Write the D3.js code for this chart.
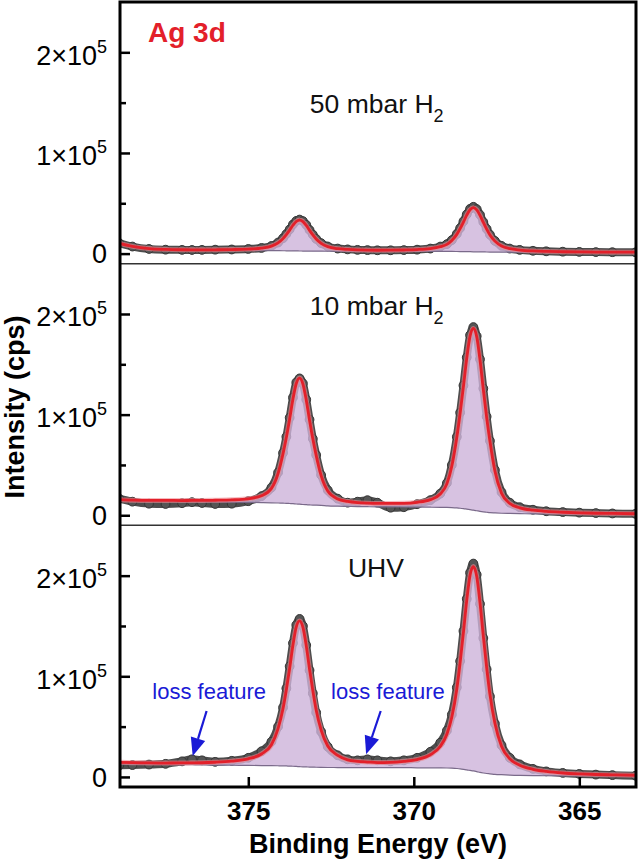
<!DOCTYPE html>
<html>
<head>
<meta charset="utf-8">
<script src="https://cdn.jsdelivr.net/npm/d3@7"></script>
<style>
	body { margin: 0; background: #fff; }
	svg text { font-family: "Liberation Sans", Arial, Helvetica, sans-serif; }
</style>
</head>
<body>
<div id="chart"></div>
<script>

// binding energies (eV), shared by every panel
const energy = [378.9, 378.5, 378.0, 377.5, 377.0, 376.7, 376.4, 376.0, 375.5, 375.0,
	374.6, 374.3, 374.1, 373.95, 373.85, 373.75, 373.65, 373.55, 373.45, 373.35,
	373.25, 373.15, 373.05, 372.95, 372.8, 372.6, 372.3, 372.0, 371.7, 371.4,
	371.1, 370.7, 370.3, 369.9, 369.5, 369.2, 369.0, 368.85, 368.7, 368.6,
	368.5, 368.4, 368.3, 368.2, 368.1, 368.0, 367.9, 367.8, 367.7, 367.55,
	367.35, 367.1, 366.8, 366.4, 366.0, 365.5, 365.0, 364.5, 364.0, 363.3];

// intensities in 10^3 cps
const mbar50Data = [10.5, 7.0, 4.6, 3.9, 3.7, 3.6, 3.7, 3.9, 4.1, 4.6,
	5.6, 7.6, 11.0, 15.3, 19.5, 24.0, 29.0, 32.5, 33.8, 32.3,
	28.6, 23.5, 18.8, 14.6, 10.4, 7.1, 5.0, 4.2, 3.7, 3.5,
	3.3, 3.3, 3.5, 3.9, 5.0, 7.0, 9.4, 13.4, 19.6, 25.3,
	32.0, 39.0, 44.5, 46.5, 44.2, 38.6, 31.4, 24.6, 18.8, 12.6,
	7.7, 5.0, 3.7, 2.8, 2.3, 1.9, 1.7, 1.5, 1.4, 1.3];
const mbar50Fit = [10.2, 7.2, 5.0, 4.2, 3.85, 3.75, 3.75, 3.8, 4.0, 4.45,
	5.45, 7.4, 10.65, 14.9, 18.85, 23.3, 28.15, 31.9, 33.3, 31.85,
	28.0, 23.1, 18.55, 14.5, 10.25, 6.9, 4.85, 4.1, 3.65, 3.45,
	3.35, 3.4, 3.6, 4.0, 5.0, 6.85, 9.15, 13.05, 19.1, 24.75,
	31.3, 38.25, 43.6, 45.65, 43.45, 38.0, 30.95, 24.3, 18.55, 12.4,
	7.55, 4.9, 3.55, 2.65, 2.2, 1.85, 1.7, 1.5, 1.45, 1.4];
const mbar50Bg = [10.0, 7.0, 4.8, 3.9, 3.5, 3.35, 3.3, 3.2, 3.15, 3.1,
	3.0, 2.95, 2.9, 2.85, 2.8, 2.75, 2.7, 2.65, 2.6, 2.55,
	2.5, 2.48, 2.45, 2.42, 2.4, 2.35, 2.3, 2.3, 2.25, 2.25,
	2.25, 2.2, 2.2, 2.2, 2.2, 2.2, 2.15, 2.15, 2.1, 2.05,
	2.0, 1.95, 1.9, 1.8, 1.75, 1.7, 1.65, 1.6, 1.55, 1.5,
	1.45, 1.4, 1.35, 1.3, 1.3, 1.25, 1.25, 1.2, 1.2, 1.2];

const mbar10Data = [16.5, 13.5, 11.5, 11.2, 12.0, 13.0, 12.2, 11.2, 11.5, 14.0,
	19.0, 27.5, 42.5, 62.0, 78.0, 97.0, 117.0, 132.0, 136.0, 131.0,
	115.0, 95.0, 76.0, 60.0, 40.0, 25.0, 16.5, 12.5, 13.5, 15.0,
	12.5, 7.5, 8.0, 11.0, 15.0, 21.5, 32.0, 50.0, 78.0, 102.0,
	129.0, 157.0, 179.0, 187.0, 178.0, 155.0, 126.0, 98.0, 74.0, 45.0,
	23.0, 12.5, 8.0, 5.5, 4.0, 3.2, 2.6, 2.2, 1.8, 1.4];
const mbar10Fit = [15.5, 15.0, 14.75, 14.75, 14.65, 14.7, 14.7, 14.9, 15.3, 16.4,
	19.4, 26.7, 41.5, 61.3, 77.3, 95.8, 115.5, 130.9, 136.3, 130.4,
	114.6, 94.5, 75.7, 59.5, 39.3, 24.0, 16.2, 13.7, 12.5, 12.0,
	11.8, 11.8, 11.9, 12.9, 15.5, 21.1, 31.2, 49.0, 77.5, 101.4,
	128.0, 156.0, 178.0, 185.6, 177.5, 154.3, 124.9, 97.3, 73.5, 43.9,
	21.9, 11.7, 7.4, 5.0, 3.8, 3.0, 2.4, 2.0, 1.8, 1.5];
const mbar10Bg = [14.5, 14.3, 14.0, 13.8, 13.6, 13.5, 13.4, 13.2, 13.0, 12.8,
	12.6, 12.4, 12.2, 12.0, 11.9, 11.7, 11.5, 11.2, 11.0, 10.7,
	10.5, 10.3, 10.1, 10.0, 9.8, 9.3, 9.0, 8.8, 8.6, 8.5,
	8.4, 8.3, 8.2, 8.1, 8.0, 7.9, 7.8, 7.6, 7.3, 7.0,
	6.6, 6.1, 5.6, 5.1, 4.5, 3.9, 3.4, 3.0, 2.6, 2.3,
	2.0, 1.8, 1.6, 1.4, 1.3, 1.2, 1.1, 1.0, 1.0, 0.9];

const uhvData = [11.5, 11.8, 12.3, 13.0, 15.5, 17.5, 16.5, 15.0, 16.0, 19.0,
	25.5, 35.0, 50.0, 69.0, 88.0, 110.0, 133.0, 151.0, 157.0, 150.0,
	131.0, 106.0, 83.0, 64.0, 45.0, 30.0, 21.5, 17.5, 16.5, 17.5,
	16.5, 15.5, 16.5, 19.0, 25.0, 34.0, 46.0, 62.0, 89.0, 115.0,
	145.0, 177.0, 203.0, 212.0, 201.0, 172.0, 138.0, 107.0, 80.0, 53.0,
	31.5, 19.0, 12.5, 8.0, 5.5, 4.0, 3.0, 2.3, 1.8, 1.2];
const uhvFit = [14.5, 14.2, 13.9, 13.8, 13.9, 14.0, 14.1, 14.6, 15.7, 18.0,
	22.8, 32.0, 48.0, 68.0, 86.7, 108.0, 131.0, 149.0, 155.0, 148.5,
	130.5, 107.0, 85.5, 66.5, 46.5, 30.7, 21.4, 17.0, 15.5, 14.8,
	14.3, 14.5, 15.5, 17.3, 22.0, 30.3, 42.4, 59.5, 87.4, 113.7,
	143.6, 175.5, 200.5, 209.0, 199.3, 173.0, 140.0, 109.0, 82.0, 53.4,
	30.6, 18.0, 11.7, 7.6, 5.5, 3.9, 3.0, 2.4, 2.1, 1.7];
const uhvBg = [13.0, 12.8, 12.6, 12.4, 12.2, 12.1, 12.0, 11.8, 11.6, 11.5,
	11.3, 11.2, 11.1, 11.0, 10.9, 10.7, 10.6, 10.4, 10.2, 10.0,
	9.9, 9.8, 9.7, 9.6, 9.5, 9.4, 9.35, 9.3, 9.3, 9.25,
	9.2, 9.2, 9.2, 9.1, 9.05, 9.0, 8.9, 8.7, 8.4, 8.1,
	7.6, 7.0, 6.5, 6.0, 5.3, 4.5, 3.9, 3.4, 3.1, 2.6,
	2.2, 1.8, 1.5, 1.3, 1.2, 1.1, 1.0, 0.95, 0.9, 0.8];

const xTicks = [375, 370, 365];
const yMajorTicks = [0, 100, 200];
const yMinorTicks = [50, 150];
const yTickMantissa = ["0", "1×10", "2×10"];
const yTickExponent = ["", "5", "5"];

const panelNames = ["50 mbar H", "10 mbar H", "UHV"];
const panelSubs = ["2", "2", ""];
const panelLabelE = [373.14, 373.14, 371.99];
const panelLabelY = [140, 199, 199];

const lossLabelE = [376.18, 370.78];
const lossLabelY = 77;
const lossTailE = [376.26, 371.0];
const lossTailY = [65.5, 65.5];
const lossTipE = [376.68, 371.44];
const lossTipY = [20.8, 22.5];

const WIDTH = 640;
const HEIGHT = 860;
const margin = { top: 2, right: 4, bottom: 73, left: 120 };
const width = WIDTH - margin.left - margin.right;
const plotHeight = HEIGHT - margin.top - margin.bottom;
const panelHeight = plotHeight / 3;

const BLUE = "#1a1ad6";
const RED = "#e3202a";

const x = d3.scaleLinear()
	.domain([378.876, 363.287])
	.range([0, width]);

const y = d3.scaleLinear()
	.domain([-10, 250])
	.range([panelHeight, 0]);

const svg = d3.select("#chart").append("svg")
	.attr("width", WIDTH)
	.attr("height", HEIGHT);

const root = svg.append("g")
	.attr("transform", "translate(" + margin.left + "," + margin.top + ")");

svg.append("defs").append("clipPath")
	.attr("id", "clip")
	.append("rect")
	.attr("width", width)
	.attr("height", panelHeight);

const panels = [
	{ data: mbar50Data, fit: mbar50Fit, bg: mbar50Bg },
	{ data: mbar10Data, fit: mbar10Fit, bg: mbar10Bg },
	{ data: uhvData, fit: uhvFit, bg: uhvBg }
];

const lineOf = d3.line()
	.x((d, i) => x(energy[i]))
	.y(d => y(d))
	.curve(d3.curveMonotoneX);

panels.forEach((p, k) => {

	const g = root.append("g")
		.attr("transform", "translate(0," + (k * panelHeight) + ")");

	const plot = g.append("g")
		.attr("clip-path", "url(#clip)");

	// measured points: they overlap into a dark band
	plot.append("path")
		.attr("d", lineOf(p.data))
		.attr("fill", "none")
		.attr("stroke", "#4d4d4d")
		.attr("stroke-width", 8)
		.attr("stroke-linejoin", "round")
		.attr("stroke-linecap", "round");

	plot.append("g")
		.selectAll("circle")
		.data(p.data)
		.enter()
		.append("circle")
		.attr("cx", (d, i) => x(energy[i]))
		.attr("cy", d => y(d))
		.attr("r", 4.4)
		.attr("fill", "#555")
		.attr("stroke", "#363636")
		.attr("stroke-width", 1);

	const area = d3.area()
		.x((d, i) => x(energy[i]))
		.y0((d, i) => y(p.bg[i]))
		.y1(d => y(d))
		.curve(d3.curveMonotoneX);

	plot.append("path")
		.attr("d", area(p.fit))
		.attr("fill", "#cdb3d9")
		.attr("fill-opacity", 0.8);

	plot.append("path")
		.attr("d", lineOf(p.bg))
		.attr("fill", "none")
		.attr("stroke", "#7a6a8a")
		.attr("stroke-width", 1.2);

	plot.append("path")
		.attr("d", lineOf(p.fit))
		.attr("fill", "none")
		.attr("stroke", "#f08a92")
		.attr("stroke-width", 5)
		.attr("stroke-opacity", 0.6);

	plot.append("path")
		.attr("d", lineOf(p.fit))
		.attr("fill", "none")
		.attr("stroke", RED)
		.attr("stroke-width", 2.8);

	// y axis, ticks pointing inward
	const axisMajor = g.append("g")
		.call(d3.axisLeft(y)
			.tickValues(yMajorTicks)
			.tickSize(-10)
			.tickPadding(13));

	axisMajor.selectAll("text")
		.text(null)
		.attr("font-size", 27)
		.attr("fill", "#000")
		.attr("dy", (d, i) => yTickExponent[i] ? "0.44em" : "0.34em")
		.each(function (d, i) {
			const t = d3.select(this);
			t.append("tspan").text(yTickMantissa[i]);
			if (yTickExponent[i]) {
				t.append("tspan")
					.attr("font-size", 18)
					.attr("dy", -12)
					.text(yTickExponent[i]);
			}
		});

	g.append("g")
		.call(d3.axisLeft(y)
			.tickValues(yMinorTicks)
			.tickSize(-6)
			.tickFormat(""));

	g.selectAll(".domain").remove();
	g.selectAll(".tick line")
		.attr("stroke", "#000")
		.attr("stroke-width", 2.5);

	// panel label
	const label = g.append("text")
		.attr("x", x(panelLabelE[k]))
		.attr("y", y(panelLabelY[k]))
		.attr("font-size", 26.5)
		.attr("fill", "#111");
	label.append("tspan").text(panelNames[k]);
	if (panelSubs[k]) {
		label.append("tspan")
			.attr("font-size", 18)
			.attr("dy", 9)
			.text(panelSubs[k]);
	}

	if (k > 0) {
		g.append("line")
			.attr("x1", 0)
			.attr("x2", width)
			.attr("y1", 0)
			.attr("y2", 0)
			.attr("stroke", "#333")
			.attr("stroke-width", 1.5);
	}

	if (k === 0) {
		g.append("text")
			.attr("x", x(378.03))
			.attr("y", y(210))
			.attr("font-size", 28)
			.attr("font-weight", "bold")
			.attr("fill", RED)
			.text("Ag 3d");
	}

	if (k === 2) {
		lossLabelE.forEach((e, j) => {
			g.append("text")
				.attr("x", x(e))
				.attr("y", y(lossLabelY))
				.attr("text-anchor", "middle")
				.attr("font-size", 22)
				.attr("fill", BLUE)
				.text("loss feature");

			const x0 = x(lossTailE[j]);
			const y0 = y(lossTailY[j]);
			const x1 = x(lossTipE[j]);
			const y1 = y(lossTipY[j]);
			const len = Math.hypot(x1 - x0, y1 - y0);
			const ux = (x1 - x0) / len;
			const uy = (y1 - y0) / len;
			const head = 18;
			const half = 7.5;
			const bx = x1 - ux * head;
			const by = y1 - uy * head;

			g.append("line")
				.attr("x1", x0)
				.attr("y1", y0)
				.attr("x2", bx)
				.attr("y2", by)
				.attr("stroke", BLUE)
				.attr("stroke-width", 2.2);

			g.append("path")
				.attr("d", `M ${x1} ${y1} L ${bx - uy * half} ${by + ux * half} L ${bx + uy * half} ${by - ux * half} Z`)
				.attr("fill", BLUE);
		});
	}
});

// x axis at the bottom, ticks inward
const axisX = root.append("g")
	.attr("transform", "translate(0," + plotHeight + ")")
	.call(d3.axisBottom(x)
		.tickValues(xTicks)
		.tickSize(-10)
		.tickPadding(15)
		.tickFormat(d3.format("d")));

axisX.select(".domain").remove();
axisX.selectAll(".tick line")
	.attr("stroke", "#000")
	.attr("stroke-width", 2.5);
axisX.selectAll("text")
	.attr("font-size", 26)
	.attr("font-weight", "bold")
	.attr("fill", "#000");

// frame
root.append("rect")
	.attr("width", width)
	.attr("height", plotHeight)
	.attr("fill", "none")
	.attr("stroke", "#000")
	.attr("stroke-width", 3);

root.append("text")
	.attr("x", width / 2)
	.attr("y", plotHeight + 66)
	.attr("text-anchor", "middle")
	.attr("font-size", 27)
	.attr("font-weight", "bold")
	.text("Binding Energy (eV)");

svg.append("text")
	.attr("transform", "translate(24," + 407 + ") rotate(-90)")
	.attr("text-anchor", "middle")
	.attr("font-size", 27)
	.attr("font-weight", "bold")
	.text("Intensity (cps)");

</script>
</body>
</html>
